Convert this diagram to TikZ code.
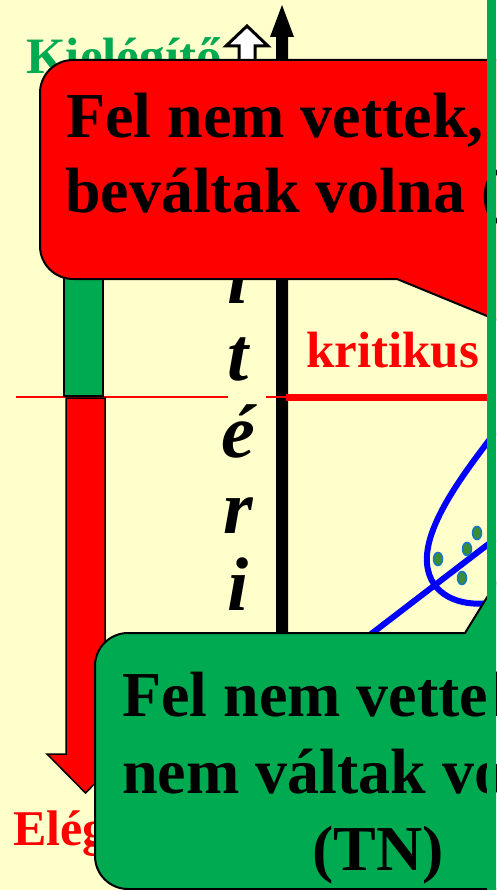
\documentclass[tikz,border=0pt]{standalone}
\usepackage{fontspec}
\setmainfont{Liberation Serif}
\usepackage{xcolor}
\usepackage{tikz}
\definecolor{slidebg}{RGB}{255,255,204}
\definecolor{okgreen}{RGB}{0,170,80}
\definecolor{dotgreen}{RGB}{60,140,50}
\definecolor{dotblue}{RGB}{20,120,200}

\begin{document}
\begin{tikzpicture}[x=1pt,y=-1pt,
  letter/.style={anchor=base,inner sep=0pt,font=\fontsize{76}{76}\selectfont\bfseries\itshape},
  label/.style={anchor=base west,inner sep=0pt,font=\fontsize{51}{51}\selectfont\bfseries},
  boxtext/.style={anchor=base west,inner sep=0pt,font=\fontsize{64}{75}\selectfont\bfseries},
  dot/.style={fill=dotgreen,draw=dotblue,line width=1.5pt}]
\useasboundingbox (0,0) rectangle (496,890);
\clip (0,0) rectangle (496,890);
\fill[slidebg] (0,0) rectangle (496,890);
\node[label,text=okgreen] (kielegito) at (26,74) {Kielégítő};
\draw[fill=white,line width=3pt] (239,62) -- (239,46) -- (226,46) -- (247,26) -- (268,46) -- (255,46) -- (255,62);
\fill[black] (276,640) -- (276,37) -- (270,37) -- (282,5) -- (294,37) -- (288,37) -- (288,640) -- cycle;
\foreach \ch/\y [count=\i] in {i/303,t/380,é/457,r/533,i/610}
  \node[letter] (betu\i) at (238,\y) {\ch};
\draw[red,line width=2pt] (16,397) -- (228,397);
\draw[red,line width=2pt] (266,397) -- (288,397);
\draw[red,line width=7pt] (286,397.5) -- (496,397.5);
\node[label,text=red] (kritikus) at (306,367) {kritikus};
\draw[blue,line width=6pt] (345,654) -- (495,539);
\draw[blue,line width=6pt] (495,432) -- (487,443) .. controls (455,485) and (420,535) .. (428,570)
  .. controls (434,598) and (465,608) .. (495,602);
\draw[dot] (438,559) ellipse (4.5 and 6.5);
\draw[dot] (467,549) ellipse (4.5 and 6.5);
\draw[dot] (477,533) ellipse (4.5 and 6.5);
\draw[dot] (462,578) ellipse (4.5 and 6.5);
\draw[fill=okgreen,line width=1.5pt] (64,200) rectangle (103,396);
\draw[fill=red,line width=1.5pt] (66,398) -- (105,398) -- (105,754) -- (124,754) -- (85.5,793) -- (47,754) -- (66,754) -- cycle;
\node[label,font=\fontsize{50}{50}\selectfont\bfseries,text=red] (elegtelen) at (13,845) {Elégtelen};
\draw[fill=red,line width=2pt] (397,279) -- (560,346) -- (560,60) -- (73,60)
  arc[start angle=270,end angle=180,radius=33] -- (40,246)
  arc[start angle=180,end angle=90,radius=33] -- cycle;
\node[boxtext] (fn1) at (66,138) {Fel nem vettek,};
\node[boxtext] (fn2) at (65,213) {beváltak volna (FN)};
\draw[fill=okgreen,line width=2pt] (465,633) -- (510,560) -- (560,560) -- (560,889) -- (128,889)
  arc[start angle=90,end angle=180,radius=33] -- (95,666)
  arc[start angle=180,end angle=270,radius=33] -- cycle;
\node[boxtext] (tn1) at (122,716) {Fel nem vettek,};
\node[boxtext] (tn2) at (122,793) {nem váltak volna};
\node[boxtext,anchor=base] (tn3) at (378,870) {(TN)};
\fill[okgreen] (487,0) rectangle (496,890);
\end{tikzpicture}
\end{document}
